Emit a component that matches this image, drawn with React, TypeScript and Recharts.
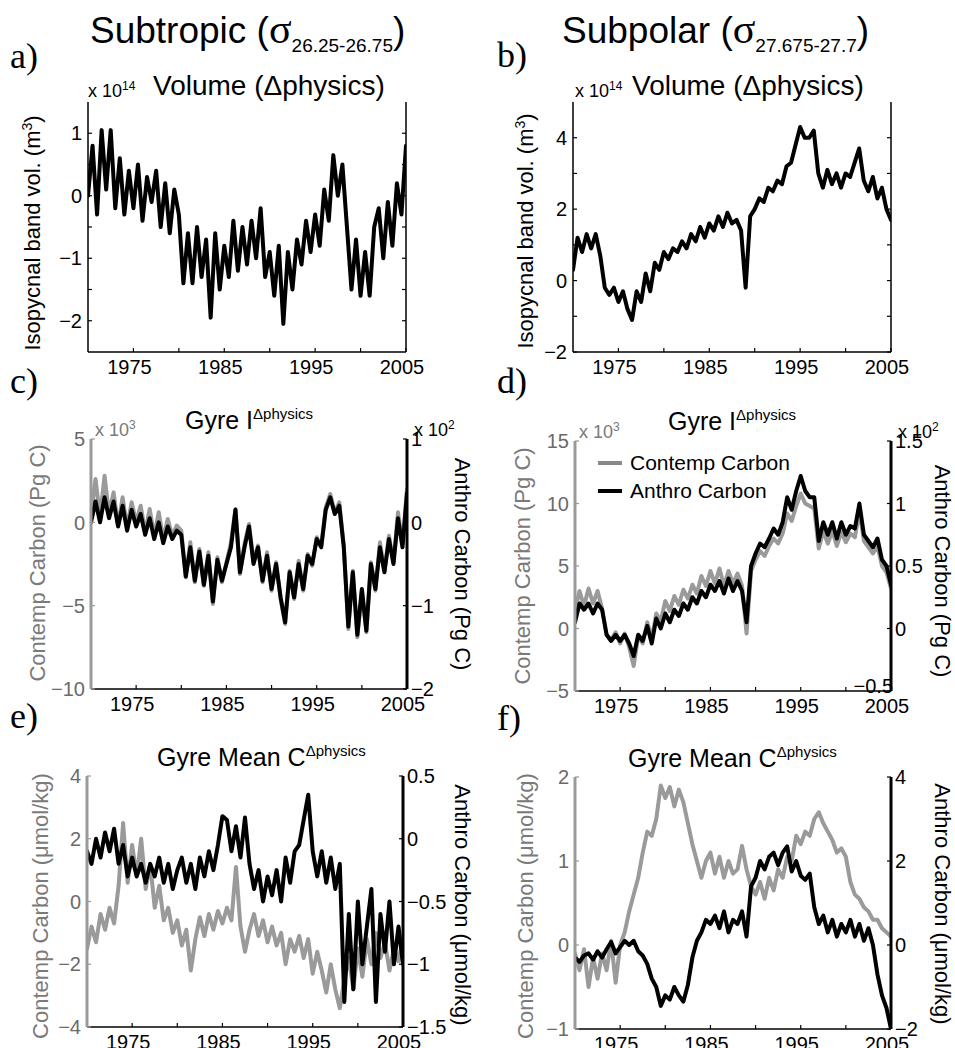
import React from 'react';
import { LineChart, Line, XAxis, YAxis } from 'recharts';

const FONT = '"Liberation Sans", Arial, Helvetica, sans-serif';
const SERIF = '"Liberation Serif", "Times New Roman", serif';
const GRAY = '#9a9a9a';
const GRAY_TXT = '#6a6a6a';
const GRAY_LBL = '#7a7a7a';

// time axis (years)
const years = [1970,1970.5,1971,1971.5,1972,1972.5,1973,1973.5,1974,1974.5,1975,1975.5,1976,1976.5,1977,1977.5,1978,1978.5,1979,1979.5,1980,1980.5,1981,1981.5,1982,1982.5,1983,1983.5,1984,1984.5,1985,1985.5,1986,1986.5,1987,1987.5,1988,1988.5,1989,1989.5,1990,1990.5,1991,1991.5,1992,1992.5,1993,1993.5,1994,1994.5,1995,1995.5,1996,1996.5,1997,1997.5,1998,1998.5,1999,1999.5,2000,2000.5,2001,2001.5,2002,2002.5,2003,2003.5,2004,2004.5,2005];
const xTicks = [1975, 1980, 1985, 1990, 1995, 2000, 2005];
const xLabels = [1975, 1985, 1995, 2005];

// a) Subtropic volume (x1e14 m3)
const volSubtropic = [
  0.0, 0.8, -0.3, 1.05, 0.1, 1.05, -0.2, 0.6, -0.3, 0.4,
  -0.2, 0.5, -0.4, 0.3, -0.1, 0.4, -0.5, 0.2, -0.6, 0.1,
  -0.3, -1.4, -0.6, -1.4, -0.5, -1.3, -0.7, -1.95, -0.6, -1.5,
  -0.8, -1.3, -0.4, -1.2, -0.5, -1.1, -0.4, -1.0, -0.2, -1.3,
  -0.9, -1.6, -0.8, -2.05, -0.9, -1.5, -0.7, -1.1, -0.4, -0.9,
  -0.3, -0.8, 0.1, -0.4, 0.65, 0.0, 0.5, -0.5, -1.5, -0.7,
  -1.6, -0.9, -1.6, -0.5, -0.2, -1.0, -0.1, -0.8, 0.2, -0.3,
  0.8,
];
// b) Subpolar volume (x1e14 m3)
const volSubpolar = [
  0.3, 1.2, 0.8, 1.3, 0.9, 1.3, 0.7, -0.2, -0.4, -0.2,
  -0.6, -0.3, -0.8, -1.1, -0.3, -0.6, 0.2, -0.3, 0.5, 0.3,
  0.8, 0.6, 0.9, 0.8, 1.1, 0.9, 1.3, 1.1, 1.5, 1.2,
  1.6, 1.4, 1.8, 1.5, 1.9, 1.6, 1.7, 1.4, -0.2, 1.8,
  2.0, 2.3, 2.2, 2.6, 2.5, 2.8, 2.7, 3.2, 3.3, 3.8,
  4.3, 4.0, 4.0, 4.2, 3.0, 2.6, 3.1, 2.7, 3.0, 2.6,
  3.0, 2.9, 3.3, 3.7, 2.8, 2.5, 2.9, 2.3, 2.6, 2.0,
  1.7,
];
// c) Subtropic gyre inventory
const invContempSubtropic = [
  0.5, 2.6, 0.3, 2.8, 0.5, 1.8, -0.2, 1.5, -0.3, 1.2,
  0.0, 1.0, -0.6, 0.8, -0.8, 0.6, -1.0, 0.2, -0.8, -0.2,
  -0.5, -3.3, -1.2, -3.6, -1.6, -3.8, -1.8, -4.9, -2.1, -3.6,
  -2.4, -1.2, 0.8, -3.1, -1.3, -0.1, -2.3, -1.4, -3.6, -1.8,
  -4.1, -2.4, -4.6, -6.1, -2.9, -4.6, -2.3, -4.1, -1.9, -2.6,
  -0.9, -1.4, 0.9, 1.7, 0.6, 1.2, -1.4, -6.4, -2.9, -6.9,
  -4.1, -6.6, -2.4, -4.1, -1.2, -2.9, -0.8, -2.4, 0.6, -1.3,
  2.0,
];
const invAnthroSubtropic = [
  0.0, 0.25, 0.0, 0.3, 0.05, 0.25, -0.05, 0.2, -0.1, 0.15,
  -0.05, 0.1, -0.15, 0.05, -0.2, 0.0, -0.25, -0.05, -0.2, -0.1,
  -0.15, -0.65, -0.3, -0.7, -0.35, -0.75, -0.4, -0.95, -0.45, -0.7,
  -0.5, -0.3, 0.15, -0.6, -0.3, -0.05, -0.5, -0.3, -0.7, -0.4,
  -0.8, -0.5, -0.9, -1.2, -0.6, -0.9, -0.5, -0.8, -0.4, -0.5,
  -0.2, -0.3, 0.15, 0.3, 0.1, 0.2, -0.3, -1.25, -0.6, -1.35,
  -0.8, -1.3, -0.5, -0.8, -0.3, -0.6, -0.2, -0.5, 0.05, -0.3,
  0.35,
];
// d) Subpolar gyre inventory
const invContempSubpolar = [
  1.5, 3.0, 1.8, 3.2, 2.0, 3.0, 1.6, -0.5, -0.9, -0.3,
  -1.2, -0.4, -1.5, -3.0, -0.6, -1.2, 0.5, -0.8, 1.2, 0.6,
  2.2, 1.4, 2.6, 1.9, 3.1, 2.4, 3.5, 2.8, 4.2, 3.4,
  4.6, 3.6, 4.8, 3.4, 4.6, 3.6, 4.4, 3.4, -0.4, 4.6,
  5.5, 6.2, 5.8, 6.6, 7.2, 6.8, 7.6, 9.2, 8.6, 9.8,
  10.8, 10.0, 9.8, 9.6, 6.4, 7.8, 6.8, 7.8, 6.6, 7.7,
  6.9, 7.6, 7.3, 9.4, 7.0, 6.5, 6.0, 6.6, 5.0, 4.5,
  3.2,
];
const invAnthroSubpolar = [
  0.05, 0.2, 0.15, 0.2, 0.12, 0.2, 0.15, -0.05, -0.1, -0.05,
  -0.1, -0.05, -0.12, -0.22, -0.05, -0.1, 0.02, -0.12, 0.08, 0.0,
  0.12, 0.05, 0.15, 0.1, 0.2, 0.15, 0.25, 0.2, 0.3, 0.25,
  0.35, 0.3, 0.38, 0.28, 0.4, 0.3, 0.38, 0.3, 0.05, 0.5,
  0.6, 0.68, 0.65, 0.72, 0.8, 0.75, 0.85, 1.05, 0.95, 1.1,
  1.22, 1.1, 1.05, 1.05, 0.7, 0.85, 0.75, 0.85, 0.72, 0.85,
  0.75, 0.82, 0.8, 1.0, 0.75, 0.7, 0.65, 0.72, 0.55, 0.5,
  0.35,
];
// e) Subtropic gyre mean concentration
const meanContempSubtropic = [
  -1.5, -0.8, -1.3, -0.4, -0.9, -0.2, -0.7, 0.5, 2.5, 0.6,
  1.8, 0.8, 2.0, 0.4, 1.2, -0.2, 0.5, -0.6, -0.2, -1.0,
  -0.6, -1.4, -0.9, -2.2, -1.2, -0.5, -1.1, -0.4, -0.9, -0.3,
  -0.7, -0.2, -0.6, 1.1, -0.8, -1.6, -0.9, -0.4, -1.1, -0.6,
  -1.3, -0.8, -1.4, -1.0, -2.0, -1.2, -1.6, -1.1, -1.8, -1.2,
  -2.3, -1.6, -2.2, -2.9, -2.0, -2.8, -3.4, -2.5, -1.8, -2.8,
  -1.5, -2.4, -1.2, -2.0, -1.0, -1.8, -1.3, -2.2, -1.5, -1.9,
  -1.2,
];
const meanAnthroSubtropic = [
  -0.1, -0.2, 0.0, -0.15, 0.05, -0.1, 0.08, -0.2, -0.05, -0.3,
  -0.15, -0.3, -0.2, -0.35, -0.2, -0.3, -0.15, -0.35, -0.2, -0.4,
  -0.25, -0.15, -0.35, -0.2, -0.4, -0.15, -0.3, -0.1, -0.25, -0.05,
  0.18, 0.15, -0.1, 0.1, -0.15, 0.17, -0.2, -0.4, -0.25, -0.5,
  -0.3, -0.45, -0.25, -0.5, -0.15, -0.35, -0.1, -0.05, 0.15, 0.35,
  -0.1, -0.3, -0.1, -0.35, -0.15, -0.4, -0.2, -1.3, -0.6, -1.2,
  -0.5, -1.0, -0.7, -0.4, -1.3, -0.6, -0.9, -0.5, -1.0, -0.7,
  -1.0,
];
// f) Subpolar gyre mean concentration
const meanContempSubpolar = [
  -0.1, -0.3, -0.05, -0.5, -0.15, -0.4, -0.1, -0.3, 0.05, -0.45,
  0.0, 0.15, 0.4, 0.6, 0.8, 1.1, 1.35, 1.3, 1.5, 1.9,
  1.75, 1.88, 1.65, 1.85, 1.7, 1.45, 1.2, 1.0, 0.8, 1.0,
  1.1, 0.85, 1.05, 0.8, 1.0, 0.85, 0.9, 1.18, 0.9, 0.7,
  0.6, 0.75, 0.55, 0.8, 0.65, 0.9, 0.8, 1.05, 1.0, 1.3,
  1.2, 1.35, 1.3, 1.5, 1.58, 1.45, 1.35, 1.25, 1.1, 1.15,
  1.05, 0.75, 0.6, 0.55, 0.45, 0.4, 0.3, 0.3, 0.2, 0.15,
  0.1,
];
const meanAnthroSubpolar = [
  -0.3, -0.4, -0.25, -0.2, -0.35, -0.15, -0.3, -0.1, 0.07, -0.2,
  -0.05, 0.1, 0.0, 0.1, -0.15, -0.25, -0.45, -0.8, -1.0, -1.45,
  -1.2, -1.3, -1.0, -1.2, -1.35, -0.95, -0.3, 0.1, 0.3, 0.6,
  0.5, 0.7, 0.4, 0.8, 0.3, 0.6, 0.5, 0.8, 0.2, 1.4,
  1.6, 2.0, 1.8, 2.1, 2.2, 1.9, 2.2, 2.35, 1.75, 2.0,
  1.65, 1.55, 1.7, 0.9, 0.5, 0.7, 0.3, 0.6, 0.2, 0.5,
  0.3, 0.6, 0.2, 0.5, 0.1, 0.4, 0.0, -0.7, -1.2, -1.5,
  -2.0,
];

const fmtNum = (v: number) => String(v).replace('-', '\u2212');

type AxisCfg = {
  domain: [number, number];
  ticks: number[];
  labels: number[];
  axisColor: string;
  axisWidth: number;
  textColor: string;
  inside?: number[];
};

function YTick(props: any) {
  const { x, y, payload, textAnchor, color, labels, inside } = props;
  const v = payload.value;
  if (!labels.includes(v)) return <g />;
  const isIn = inside && inside.includes(v);
  return (
    <text
      x={isIn ? x - 2 : x}
      y={isIn ? y - 5 : y}
      dy="0.36em"
      textAnchor={isIn ? 'end' : textAnchor}
      fill={color}
      fontSize={20}
      fontFamily={FONT}
    >
      {fmtNum(v)}
    </text>
  );
}

function XTick(props: any) {
  const { x, y, payload } = props;
  const v = payload.value;
  if (!xLabels.includes(v)) return <g />;
  return (
    <text x={x - 4} y={y} dy="0.71em" textAnchor="middle" fill="#000" fontSize={20} fontFamily={FONT}>
      {String(v)}
    </text>
  );
}

type LineCfg = { key: string; values: number[]; axis: 'l' | 'r'; color: string };

function Panel(p: { box: [number, number, number, number]; left: AxisCfg; right: AxisCfg | null; lines: LineCfg[] }) {
  const LW = 80, RW = 80, T = 12, B = 40;
  const [x0, y0, x1, y1] = p.box;
  const w = x1 - x0 + LW + RW;
  const h = y1 - y0 + T + B;
  const rows = years.map((yr, i) => {
    const o: any = { yr };
    p.lines.forEach((l) => { o[l.key] = l.values[i]; });
    return o;
  });
  const right: AxisCfg = p.right || { ...p.left, labels: [], axisColor: '#000', axisWidth: 1.5, textColor: '#000' };
  return (
    <div style={{ position: 'absolute', left: x0 - LW, top: y0 - T }}>
      <LineChart width={w} height={h} data={rows} margin={{ top: T, right: 0, left: 0, bottom: 0 }}>
        <XAxis
          xAxisId="b" dataKey="yr" type="number" domain={[1970, 2005]} allowDataOverflow
          ticks={xTicks} interval={0} height={B}
          axisLine={{ stroke: '#000', strokeWidth: 1.5 }} tickLine={{ stroke: '#000', strokeWidth: 1.2 }}
          tickSize={-4} tickMargin={12}
          tick={<XTick />}
        />
        <XAxis
          xAxisId="t" orientation="top" dataKey="yr" type="number" domain={[1970, 2005]} allowDataOverflow
          ticks={xTicks} interval={0} height={0}
          axisLine={{ stroke: '#000', strokeWidth: 1.5 }} tickLine={{ stroke: '#000', strokeWidth: 1.2 }}
          tickSize={-4} tickFormatter={() => ''}
        />
        <YAxis
          yAxisId="l" type="number" domain={p.left.domain} allowDataOverflow ticks={p.left.ticks} interval={0} width={LW}
          axisLine={{ stroke: p.left.axisColor, strokeWidth: p.left.axisWidth }}
          tickLine={{ stroke: p.left.axisColor, strokeWidth: 1.2 }}
          tickSize={-4} tickMargin={10}
          tick={<YTick color={p.left.textColor} labels={p.left.labels} />}
        />
        <YAxis
          yAxisId="r" orientation="right" type="number" domain={right.domain} allowDataOverflow ticks={right.ticks} interval={0} width={RW}
          axisLine={{ stroke: right.axisColor, strokeWidth: right.axisWidth }}
          tickLine={{ stroke: right.axisColor, strokeWidth: 1.2 }}
          tickSize={-4} tickMargin={8}
          tick={<YTick color={right.textColor} labels={right.labels} inside={right.inside} />}
        />
        {p.lines.map((l) => (
          <Line
            key={l.key} xAxisId="b" yAxisId={l.axis} type="linear" dataKey={l.key}
            stroke={l.color} strokeWidth={4} dot={false} isAnimationActive={false}
            strokeLinejoin="round" strokeLinecap="round"
          />
        ))}
      </LineChart>
    </div>
  );
}

const blackAxis = (domain: [number, number], ticks: number[], labels: number[], inside?: number[]): AxisCfg => ({
  domain, ticks, labels, axisColor: '#000', axisWidth: 3, textColor: '#000', inside,
});
const grayAxis = (domain: [number, number], ticks: number[], labels: number[]): AxisCfg => ({
  domain, ticks, labels, axisColor: GRAY, axisWidth: 3, textColor: GRAY_TXT,
});

function Overlay() {
  const t = { fontFamily: FONT };
  return (
    <svg width={955} height={1048} style={{ position: 'absolute', left: 0, top: 0, pointerEvents: 'none' }}>
      {/* column headers */}
      <text x={90} y={43} fontSize={37} {...t}>
        Subtropic (<tspan fontFamily={SERIF} fontSize={42}>σ</tspan>
        <tspan fontSize={19} dy={9}>26.25-26.75</tspan>
        <tspan dy={-9}>)</tspan>
      </text>
      <text x={562} y={43} fontSize={37} {...t}>
        Subpolar (<tspan fontFamily={SERIF} fontSize={42}>σ</tspan>
        <tspan fontSize={19} dy={9}>27.675-27.7</tspan>
        <tspan dy={-9}>)</tspan>
      </text>
      {/* panel letters */}
      <text x={10} y={68} fontSize={36} fontFamily={SERIF}>a)</text>
      <text x={497} y={67} fontSize={36} fontFamily={SERIF}>b)</text>
      <text x={10} y={393} fontSize={36} fontFamily={SERIF}>c)</text>
      <text x={497} y={393} fontSize={36} fontFamily={SERIF}>d)</text>
      <text x={10} y={728} fontSize={36} fontFamily={SERIF}>e)</text>
      <text x={497} y={730} fontSize={36} fontFamily={SERIF}>f)</text>
      {/* titles */}
      <text x={153} y={95} fontSize={28} {...t}>Volume (Δphysics)</text>
      <text x={632} y={95} fontSize={28} {...t}>Volume (Δphysics)</text>
      <text x={185} y={429} fontSize={25} {...t}>Gyre I<tspan fontSize={15} dy={-10}>Δphysics</tspan></text>
      <text x={668} y={430} fontSize={25} {...t}>Gyre I<tspan fontSize={15} dy={-10}>Δphysics</tspan></text>
      <text x={157} y={766} fontSize={25} {...t}>Gyre Mean C<tspan fontSize={15} dy={-10}>Δphysics</tspan></text>
      <text x={628} y={767} fontSize={25} {...t}>Gyre Mean C<tspan fontSize={15} dy={-10}>Δphysics</tspan></text>
      {/* exponents */}
      <text x={88} y={97} fontSize={18} {...t}>x 10<tspan fontSize={12} dy={-7}>14</tspan></text>
      <text x={575} y={97} fontSize={18} {...t}>x 10<tspan fontSize={12} dy={-7}>14</tspan></text>
      <text x={95} y={436} fontSize={18} fill={GRAY_LBL} {...t}>x 10<tspan fontSize={12} dy={-7}>3</tspan></text>
      <text x={414} y={436} fontSize={18} {...t}>x 10<tspan fontSize={12} dy={-7}>2</tspan></text>
      <text x={579} y={438} fontSize={18} fill={GRAY_LBL} {...t}>x 10<tspan fontSize={12} dy={-7}>3</tspan></text>
      <text x={898} y={438} fontSize={18} {...t}>x 10<tspan fontSize={12} dy={-7}>2</tspan></text>
      {/* y labels */}
      <text transform="translate(40,233) rotate(-90)" textAnchor="middle" fontSize={22} {...t}>
        Isopycnal band vol. (m<tspan fontSize={14} dy={-8}>3</tspan><tspan dy={8}>)</tspan>
      </text>
      <text transform="translate(533,231) rotate(-90)" textAnchor="middle" fontSize={22} {...t}>
        Isopycnal band vol. (m<tspan fontSize={14} dy={-8}>3</tspan><tspan dy={8}>)</tspan>
      </text>
      <text transform="translate(45,563) rotate(-90)" textAnchor="middle" fontSize={22} fill={GRAY_LBL} {...t}>Contemp Carbon (Pg C)</text>
      <text transform="translate(455,564) rotate(90)" textAnchor="middle" fontSize={22} {...t}>Anthro Carbon (Pg C)</text>
      <text transform="translate(530,566) rotate(-90)" textAnchor="middle" fontSize={22} fill={GRAY_LBL} {...t}>Contemp Carbon (Pg C)</text>
      <text transform="translate(935,571) rotate(90)" textAnchor="middle" fontSize={22} {...t}>Anthro Carbon (Pg C)</text>
      <text transform="translate(48,906) rotate(-90)" textAnchor="middle" fontSize={22} fill={GRAY_LBL} {...t}>Contemp Carbon (μmol/kg)</text>
      <text transform="translate(455,905) rotate(90)" textAnchor="middle" fontSize={22} {...t}>Anthro Carbon (μmol/kg)</text>
      <text transform="translate(533,906) rotate(-90)" textAnchor="middle" fontSize={22} fill={GRAY_LBL} {...t}>Contemp Carbon (μmol/kg)</text>
      <text transform="translate(935,904) rotate(90)" textAnchor="middle" fontSize={22} {...t}>Anthro Carbon (μmol/kg)</text>
      {/* legend in d */}
      <line x1={598} y1={463} x2={622} y2={463} stroke="#888" strokeWidth={4} />
      <text x={630} y={470} fontSize={21} {...t}>Contemp Carbon</text>
      <line x1={598} y1={491} x2={622} y2={491} stroke="#000" strokeWidth={4} />
      <text x={630} y={498} fontSize={21} {...t}>Anthro Carbon</text>
    </svg>
  );
}

export default function App() {
  return (
    <div style={{ position: 'absolute', left: 0, top: 0, width: 955, height: 1048, background: '#fff', fontFamily: FONT }}>
      <Panel
        box={[88, 102, 406, 352]}
        left={{ domain: [-2.5, 1.5], ticks: [-2, -1.5, -1, -0.5, 0, 0.5, 1], labels: [-2, -1, 0, 1], axisColor: '#000', axisWidth: 1.5, textColor: '#000' }}
        right={null}
        lines={[{ key: 'vol', values: volSubtropic, axis: 'l', color: '#000' }]}
      />
      <Panel
        box={[573, 102, 891, 352]}
        left={{ domain: [-2, 5], ticks: [-2, -1, 0, 1, 2, 3, 4], labels: [-2, 0, 2, 4], axisColor: '#000', axisWidth: 1.5, textColor: '#000' }}
        right={null}
        lines={[{ key: 'vol', values: volSubpolar, axis: 'l', color: '#000' }]}
      />
      <Panel
        box={[91, 439, 407, 689]}
        left={grayAxis([-10, 5], [-10, -5, 0, 5], [-10, -5, 0, 5])}
        right={blackAxis([-2, 1], [-2, -1, 0, 1], [-2, -1, 0, 1])}
        lines={[
          { key: 'contemp', values: invContempSubtropic, axis: 'l', color: GRAY },
          { key: 'anthro', values: invAnthroSubtropic, axis: 'r', color: '#000' },
        ]}
      />
      <Panel
        box={[575, 441, 891, 691]}
        left={grayAxis([-5, 15], [-5, 0, 5, 10, 15], [-5, 0, 5, 10, 15])}
        right={blackAxis([-0.5, 1.5], [-0.5, 0, 0.5, 1, 1.5], [-0.5, 0, 0.5, 1, 1.5], [-0.5])}
        lines={[
          { key: 'contemp', values: invContempSubpolar, axis: 'l', color: GRAY },
          { key: 'anthro', values: invAnthroSubpolar, axis: 'r', color: '#000' },
        ]}
      />
      <Panel
        box={[87, 776, 403, 1027]}
        left={grayAxis([-4, 4], [-4, -2, 0, 2, 4], [-4, -2, 0, 2, 4])}
        right={blackAxis([-1.5, 0.5], [-1.5, -1, -0.5, 0, 0.5], [-1.5, -1, -0.5, 0, 0.5])}
        lines={[
          { key: 'contemp', values: meanContempSubtropic, axis: 'l', color: GRAY },
          { key: 'anthro', values: meanAnthroSubtropic, axis: 'r', color: '#000' },
        ]}
      />
      <Panel
        box={[575, 777, 891, 1029]}
        left={grayAxis([-1, 2], [-1, 0, 1, 2], [-1, 0, 1, 2])}
        right={blackAxis([-2, 4], [-2, 0, 2, 4], [-2, 0, 2, 4])}
        lines={[
          { key: 'contemp', values: meanContempSubpolar, axis: 'l', color: GRAY },
          { key: 'anthro', values: meanAnthroSubpolar, axis: 'r', color: '#000' },
        ]}
      />
      <Overlay />
    </div>
  );
}
